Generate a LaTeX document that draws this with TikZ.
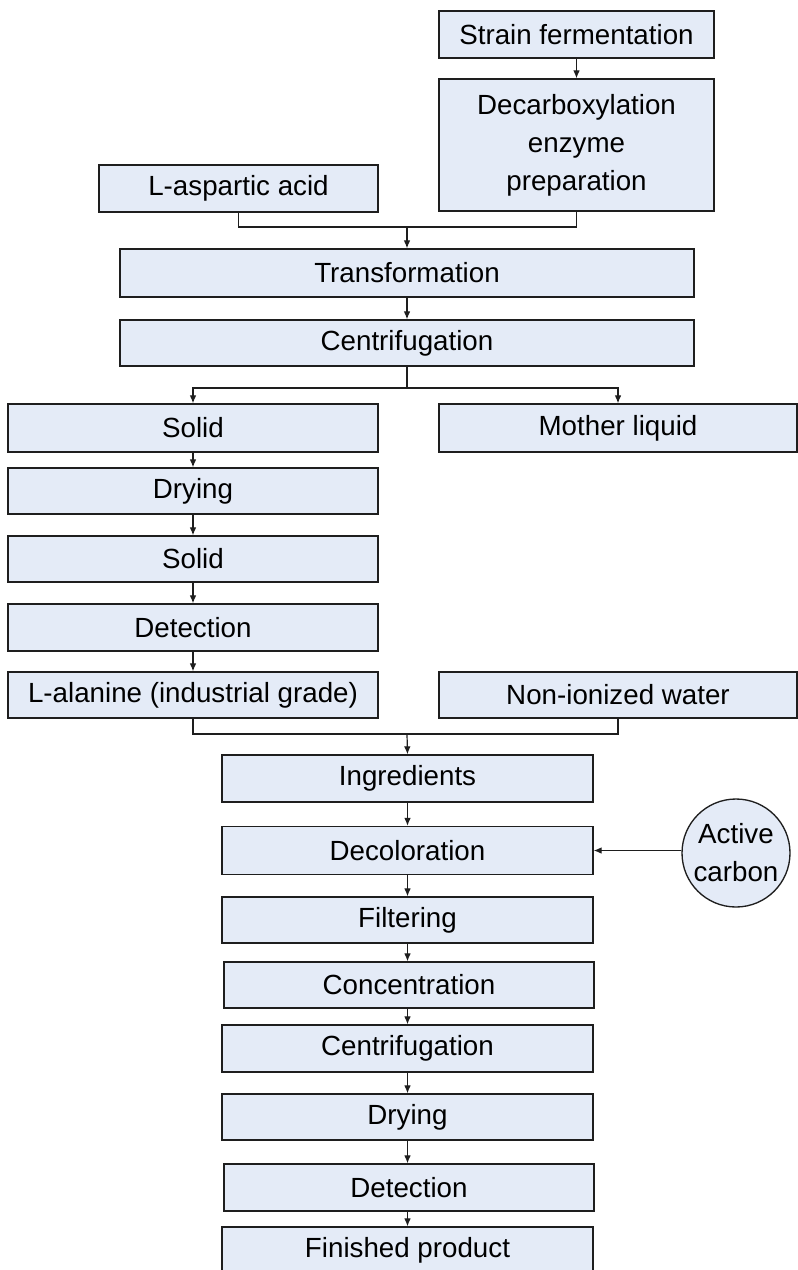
\documentclass[tikz,border=0pt]{standalone}
\usepackage{fontspec}
\setmainfont{Liberation Sans}
\usetikzlibrary{arrows.meta,calc}
\definecolor{boxfill}{RGB}{228,235,247}
\definecolor{linec}{RGB}{30,30,30}
\newcommand\pxu{0.75pt}
\begin{document}
\begin{tikzpicture}[x=0.75pt,y=-0.75pt,
  box/.style={draw=linec, line width=1pt, fill=boxfill, inner sep=0pt, align=center,
    font=\fontsize{20.8}{28.5}\selectfont, text=black},
  arr/.style={draw=linec, line width=0.9pt, -{Latex[length=6pt,width=5pt]}},
  ln/.style={draw=linec, line width=0.9pt}]
\useasboundingbox (0,0) rectangle (798,1270);
\node[box, minimum width=275*\pxu, minimum height=47*\pxu] (sf) at (576.5,34.5) {Strain fermentation};
\node[box, minimum width=275*\pxu, minimum height=132*\pxu] (dec) at (576.5,145) {Decarboxylation\\enzyme\\preparation};
\node[box, minimum width=279*\pxu, minimum height=47*\pxu] (lasp) at (238.5,188.5) {L-aspartic acid};
\node[box, minimum width=574*\pxu, minimum height=48*\pxu] (trans) at (407,273) {Transformation};
\node[box, minimum width=574*\pxu, minimum height=46*\pxu] (cen1) at (407,343) {Centrifugation};
\node[box, minimum width=370*\pxu, minimum height=48*\pxu] (solid1) at (193,428) {Solid};
\node[box, minimum width=358*\pxu, minimum height=48*\pxu] (mother) at (618,428) {Mother liquid};
\node[box, minimum width=370*\pxu, minimum height=46*\pxu] (dry1) at (193,491) {Drying};
\node[box, minimum width=370*\pxu, minimum height=46*\pxu] (solid2) at (193,559) {Solid};
\node[box, minimum width=370*\pxu, minimum height=47*\pxu] (det1) at (193,627.5) {Detection};
\node[box, minimum width=370*\pxu, minimum height=46*\pxu] (alan) at (193,695) {L-alanine (industrial grade)};
\node[box, minimum width=358*\pxu, minimum height=46*\pxu] (water) at (618,695) {Non-ionized water};
\node[box, minimum width=371*\pxu, minimum height=47*\pxu] (ingr) at (407.5,778.5) {Ingredients};
\node[box, minimum width=371*\pxu, minimum height=48*\pxu] (decol) at (407.5,850.5) {Decoloration};
\node[box, circle, minimum size=108*\pxu] (carbon) at (736,853) {Active\\carbon};
\node[box, minimum width=371*\pxu, minimum height=46*\pxu] (filt) at (407.5,920) {Filtering};
\node[box, minimum width=370*\pxu, minimum height=46*\pxu] (conc) at (409,985) {Concentration};
\node[box, minimum width=371*\pxu, minimum height=47*\pxu] (cen2) at (407.5,1048.5) {Centrifugation};
\node[box, minimum width=371*\pxu, minimum height=46*\pxu] (dry2) at (407.5,1117) {Drying};
\node[box, minimum width=370*\pxu, minimum height=47*\pxu] (det2) at (409,1187.5) {Detection};
\node[box, minimum width=371*\pxu, minimum height=47*\pxu] (fin) at (407.5,1250.5) {Finished product};
\coordinate (j1) at (407,227);
\coordinate (j2) at (407,388);
\coordinate (j3) at (407,734);
% connectors
\draw[arr] (sf.south) -- (dec.north);
\draw[ln] (lasp.south) |- (j1) -| (dec.south);
\draw[arr] (j1) -- (trans.north);
\draw[arr] (trans.south) -- (cen1.north);
\draw[ln] (cen1.south) -- (j2);
\draw[arr] (j2) -| (solid1.north);
\draw[arr] (j2) -| (mother.north);
\draw[arr] (solid1.south) -- (dry1.north);
\draw[arr] (dry1.south) -- (solid2.north);
\draw[arr] (solid2.south) -- (det1.north);
\draw[arr] (det1.south) -- (alan.north);
\draw[ln] (alan.south) |- (j3) -| (water.south);
\draw[arr] (j3) -- (ingr.north);
\draw[arr] (ingr.south) -- (decol.north);
\draw[arr] (carbon.west |- decol.east) -- (decol.east);
\draw[arr] (decol.south) -- (filt.north);
\draw[arr] (filt.south) -- (filt.south |- conc.north);
\draw[arr] (conc.south -| cen2.north) -- (cen2.north);
\draw[arr] (cen2.south) -- (dry2.north);
\draw[arr] (dry2.south) -- (dry2.south |- det2.north);
\draw[arr] (det2.south -| fin.north) -- (fin.north);
\end{tikzpicture}
\end{document}
